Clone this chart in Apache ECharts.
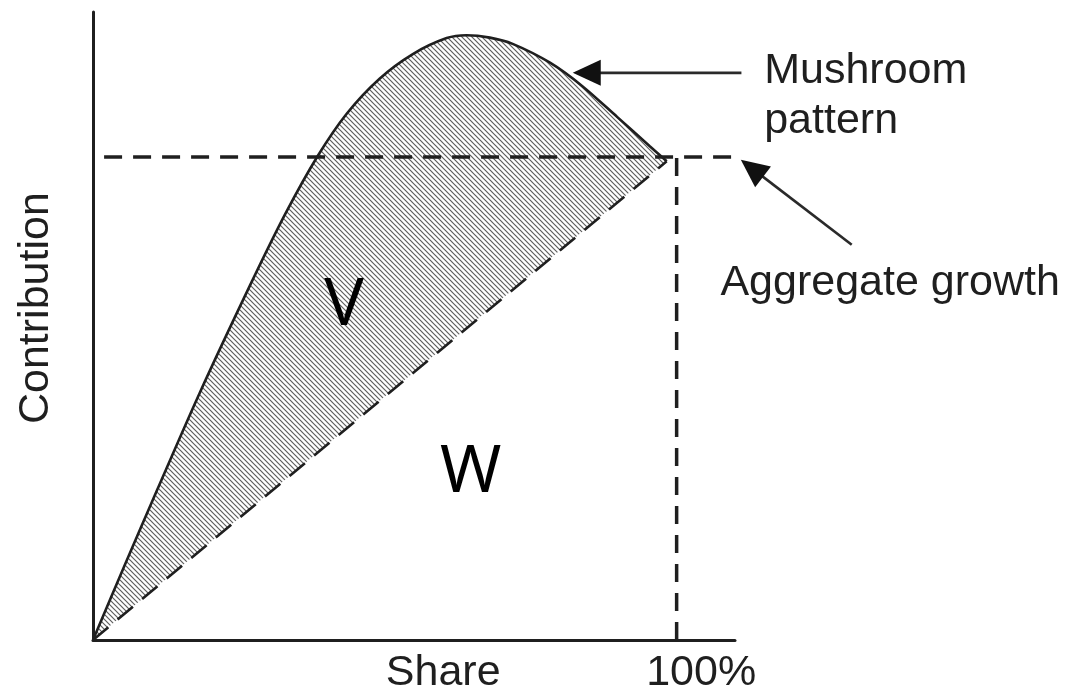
<!DOCTYPE html>
<html>
<head>
<meta charset="utf-8">
<title>Mushroom pattern</title>
<script src="https://cdn.jsdelivr.net/npm/echarts@6.0.0/dist/echarts.min.js"></script>
<style>
  html, body { margin: 0; padding: 0; background: #fff; }
  #chart { width: 1078px; height: 694px; }
</style>
</head>
<body>
<div id="chart"></div>
<script>
// curve (share %, contribution with aggregate growth = 100)
var shareX = [0, 5.5, 11.0, 18.3, 26.9, 32.9, 38.5, 43.5, 49.1, 54.8, 60.6, 64.0, 68.0, 71.9, 78.3, 83.9, 89.7, 95.4, 98.3];
var contrib = [0, 15.7, 31.1, 51.2, 73.4, 88.1, 100.2, 109.0, 116.2, 121.3, 124.6, 125.2, 124.7, 123.4, 119.5, 114.6, 108.4, 102.2, 99.1];
var diagX = [0, 98.3];
var diagY = [0, 99.1];
var aggregate = 100;
var fullShare = 100;
var labelText = ['Contribution', 'Share', '100%', 'Mushroom', 'pattern', 'Aggregate growth', 'V', 'W'];

var ink = '#1f1f1f';

// hatch pattern for the V region
var hatch = document.createElement('canvas');
hatch.width = 5;
hatch.height = 5;
var hc = hatch.getContext('2d');
hc.strokeStyle = '#5e5e5e';
hc.lineWidth = 1.2;
for (var k = -5; k <= 5; k += 5) {
    hc.beginPath();
    hc.moveTo(k - 1, -1);
    hc.lineTo(k + 6, 6);
    hc.stroke();
}

var chart = echarts.init(document.getElementById('chart'), null, {renderer: 'canvas'});

var curveData = shareX.map(function (x, i) { return [x, contrib[i]]; });
var diagData = diagX.map(function (x, i) { return [x, diagY[i]]; });
// white cover under the diagonal (W region), a touch wider than the curve end to hide the seam
var coverData = diagData.concat([[diagX[1] + 0.9, diagY[1]]]);

// arrows: [fromX, fromY, toX, toY] in data units
var arrows = [
    [111.1, 117.4, 82.2, 117.4],
    [130.0, 81.8, 111.0, 99.4]
];

var txtFont = '43px "Liberation Sans", Arial, sans-serif';
var bigFont = '66px "Noto Sans", sans-serif';
// where each text sits (data units)
var labelPos = [
    {x: -9.8, y: 68.7, align: 'center', rot: Math.PI / 2, font: txtFont},
    {x: 60.0, y: -6.8, align: 'center', rot: 0, font: txtFont},
    {x: 104.2, y: -6.8, align: 'center', rot: 0, font: txtFont},
    {x: 115.0, y: 117.8, align: 'left', rot: 0, font: txtFont},
    {x: 115.0, y: 107.5, align: 'left', rot: 0, font: txtFont},
    {x: 107.5, y: 73.9, align: 'left', rot: 0, font: txtFont},
    {x: 43.0, y: 69.0, align: 'center', rot: 0, font: bigFont},
    {x: 64.7, y: 34.6, align: 'center', rot: 0, font: bigFont}
];

var option = {
    animation: false,
    backgroundColor: '#fff',
    grid: {left: 93, right: 343, top: 12, bottom: 54},
    xAxis: {
        type: 'value', min: 0, max: 110, z: 5,
        axisLine: {show: true, onZero: false, lineStyle: {color: ink, width: 3}},
        axisTick: {show: false}, axisLabel: {show: false}, splitLine: {show: false}
    },
    yAxis: {
        type: 'value', min: 0, max: 130, z: 5,
        axisLine: {show: true, onZero: false, lineStyle: {color: ink, width: 3}},
        axisTick: {show: false}, axisLabel: {show: false}, splitLine: {show: false}
    },
    series: [
        {
            name: 'Mushroom pattern',
            type: 'line',
            data: curveData,
            smooth: 0.3,
            showSymbol: false,
            lineStyle: {color: ink, width: 2.6},
            areaStyle: {color: {image: hatch, repeat: 'repeat'}, opacity: 1},
            z: 2
        },
        {
            name: 'cover',
            type: 'line',
            data: coverData,
            showSymbol: false,
            lineStyle: {opacity: 0},
            areaStyle: {color: '#fff', opacity: 1},
            z: 3
        },
        {
            name: 'Proportional',
            type: 'line',
            data: diagData,
            showSymbol: false,
            lineStyle: {color: ink, width: 2.6, type: [20, 12]},
            z: 4
        },
        {
            name: 'Aggregate growth',
            type: 'line',
            data: [[1.9, aggregate], [110, aggregate]],
            showSymbol: false,
            lineStyle: {color: ink, width: 3.5, type: [18, 11]},
            z: 4
        },
        {
            name: '100%',
            type: 'line',
            data: [[fullShare, 0], [fullShare, aggregate]],
            showSymbol: false,
            lineStyle: {color: ink, width: 3.5, type: [18, 11]},
            z: 4
        },
        {
            name: 'arrows',
            type: 'custom',
            data: arrows,
            clip: false,
            z: 6,
            encode: {x: [0, 2], y: [1, 3]},
            renderItem: function (params, api) {
                var p1 = api.coord([api.value(0), api.value(1)]);
                var p2 = api.coord([api.value(2), api.value(3)]);
                var dx = p2[0] - p1[0], dy = p2[1] - p1[1];
                var len = Math.sqrt(dx * dx + dy * dy);
                var ux = dx / len, uy = dy / len;
                var headL = 28, headW = 13;
                var bx = p2[0] - ux * headL, by = p2[1] - uy * headL;
                return {
                    type: 'group',
                    children: [
                        {
                            type: 'line',
                            shape: {x1: p1[0], y1: p1[1], x2: bx + ux * 2, y2: by + uy * 2},
                            style: {stroke: '#2a2a2a', lineWidth: 2.6}
                        },
                        {
                            type: 'polygon',
                            shape: {points: [
                                [p2[0], p2[1]],
                                [bx - uy * headW, by + ux * headW],
                                [bx + uy * headW, by - ux * headW]
                            ]},
                            style: {fill: '#111'}
                        }
                    ]
                };
            }
        },
        {
            name: 'labels',
            type: 'custom',
            data: labelPos.map(function (l) { return [l.x, l.y]; }),
            clip: false,
            z: 7,
            renderItem: function (params, api) {
                var l = labelPos[params.dataIndex];
                var p = api.coord([api.value(0), api.value(1)]);
                return {
                    type: 'text',
                    x: p[0],
                    y: p[1],
                    rotation: l.rot,
                    style: {
                        text: labelText[params.dataIndex],
                        font: l.font,
                        fill: params.dataIndex >= 6 ? '#000' : ink,
                        align: l.align,
                        verticalAlign: 'middle'
                    }
                };
            }
        }
    ]
};

chart.setOption(option);
</script>
</body>
</html>
